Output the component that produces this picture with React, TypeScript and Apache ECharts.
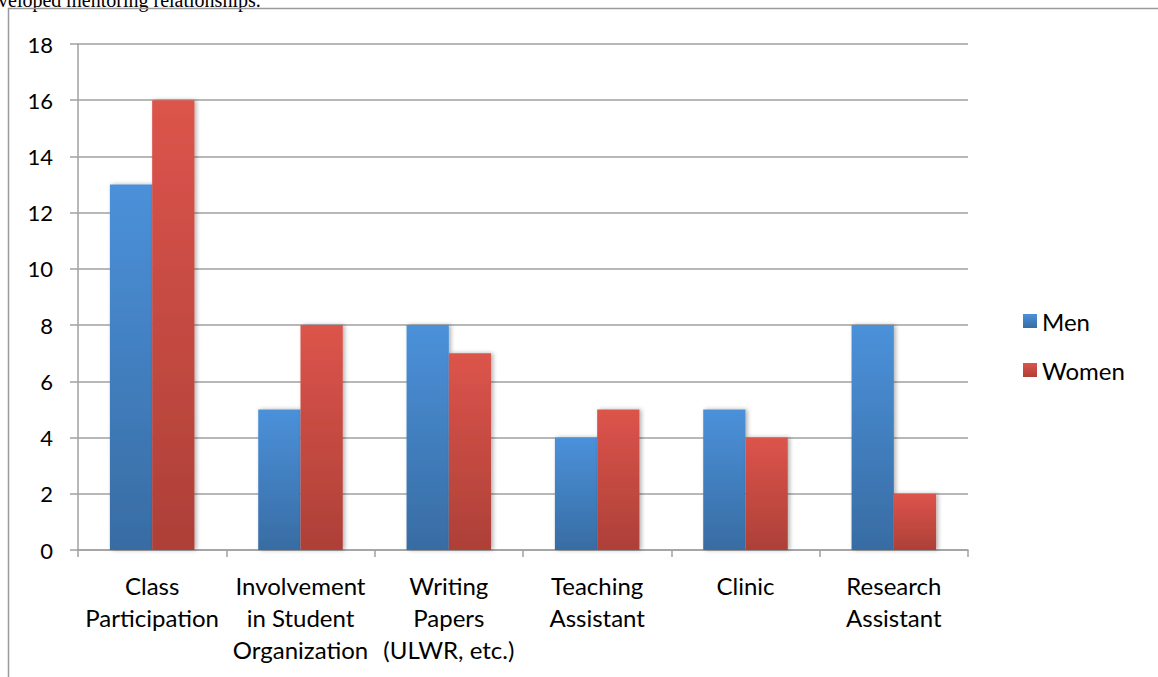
import React, { useEffect, useRef } from "react";
import * as echarts from "echarts";

const categories = [
  "Class\nParticipation",
  "Involvement\nin Student\nOrganization",
  "Writing\nPapers\n(ULWR, etc.)",
  "Teaching\nAssistant",
  "Clinic",
  "Research\nAssistant",
];
const menValues = [13, 5, 8, 4, 5, 8];
const womenValues = [16, 8, 7, 5, 4, 2];
const seriesNames = ["Men", "Women"];
const captionText = "veloped mentoring relationships.";

const FONT = "Lato";

export default function App() {
  const ref = useRef<HTMLDivElement>(null);
  useEffect(() => {
    if (!ref.current) return;
    const chart = echarts.init(ref.current, undefined, { renderer: "svg" });
    const grad = (top: string, bottom: string) =>
      new echarts.graphic.LinearGradient(0, 0, 0, 1, [
        { offset: 0, color: top },
        { offset: 1, color: bottom },
      ]);
    const menColor = grad("#4b91da", "#386ca3");
    const womenColor = grad("#dc544b", "#ad4038");
    chart.setOption({
      animation: false,
      backgroundColor: "#ffffff",
      textStyle: { fontFamily: FONT },
      grid: { left: 78, right: 190, top: 44, bottom: 127, containLabel: false },
      legend: {
        orient: "vertical",
        left: 1018,
        top: 304,
        itemWidth: 14,
        itemHeight: 14,
        itemGap: 25,
        icon: "rect",
        textStyle: { fontFamily: FONT, fontSize: 24, color: "#000" },
        data: seriesNames,
      },
      xAxis: {
        type: "category",
        data: categories,
        axisLine: { lineStyle: { color: "#a0a0a0", width: 1.5 } },
        axisTick: { show: true, length: 7, lineStyle: { color: "#a0a0a0", width: 1.5 } },
        axisLabel: {
          fontFamily: FONT,
          fontSize: 24,
          color: "#000",
          lineHeight: 32,
          margin: 19,
          interval: 0,
        },
      },
      yAxis: {
        type: "value",
        min: 0,
        max: 18,
        interval: 2,
        axisLine: { show: true, lineStyle: { color: "#a0a0a0", width: 1.5 } },
        axisTick: { show: true, length: 8, lineStyle: { color: "#a0a0a0", width: 1.5 } },
        splitLine: { lineStyle: { color: "#a0a0a0", width: 1.5 } },
        axisLabel: { fontFamily: FONT, fontSize: 22, color: "#000", margin: 25 },
      },
      series: [
        {
          name: seriesNames[0],
          type: "bar",
          data: menValues,
          barGap: "0%",
          barCategoryGap: "43%",
          itemStyle: {
            color: menColor,
            shadowBlur: 4,
            shadowColor: "rgba(0,0,0,0.3)",
            shadowOffsetX: 2,
          },
        },
        {
          name: seriesNames[1],
          type: "bar",
          data: womenValues,
          barGap: "0%",
          barCategoryGap: "43%",
          itemStyle: {
            color: womenColor,
            shadowBlur: 4,
            shadowColor: "rgba(0,0,0,0.3)",
            shadowOffsetX: 2,
          },
        },
      ],
      graphic: [
        {
          type: "rect",
          shape: { x: 8.5, y: 8.5, width: 1200, height: 1000 },
          style: { fill: "none", stroke: "#9a9a9a", lineWidth: 1.5 },
          silent: true,
          z: 100,
        },
        {
          type: "text",
          x: -2,
          y: 10,
          style: {
            text: captionText,
            font: '20px "Liberation Serif"',
            fill: "#000",
            verticalAlign: "bottom",
          },
          z: 99,
        },
      ],
    });
    return () => chart.dispose();
  }, []);
  return (
    <div
      ref={ref}
      style={{ position: "fixed", left: 0, top: 0, width: 1158, height: 677 }}
    />
  );
}
